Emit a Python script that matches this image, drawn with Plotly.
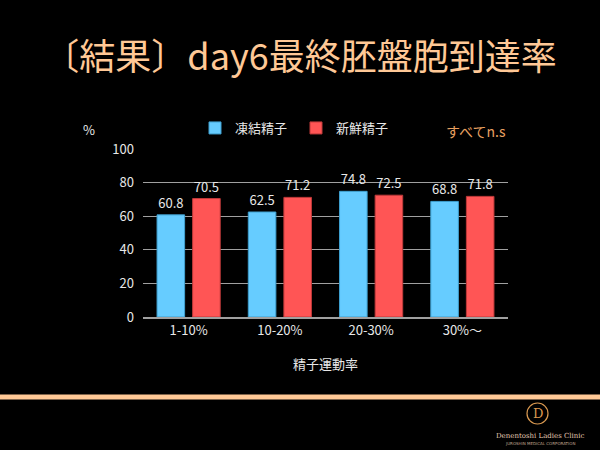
import plotly.graph_objects as go

categories = ["1-10%", "10-20%", "20-30%", "30%～"]
frozen = [60.8, 62.5, 74.8, 68.8]
fresh = [70.5, 71.2, 72.5, 71.8]
series_names = ["凍結精子", "新鮮精子"]
y_ticks = [0, 20, 40, 60, 80, 100]

JP = "Noto Sans CJK JP"
PEACH = "#FFC896"

fig = go.Figure()
fig.add_trace(go.Bar(
    x=categories, y=frozen, name=series_names[0],
    marker=dict(color="#66CCFF", line=dict(color="#3FA0D0", width=1)),
    text=[f"{v:.1f}" for v in frozen], textposition="outside",
    textfont=dict(color="#E8E8E8", size=13, family=JP), cliponaxis=False,
))
fig.add_trace(go.Bar(
    x=categories, y=fresh, name=series_names[1],
    marker=dict(color="#FF5555", line=dict(color="#C03A3A", width=1)),
    text=[f"{v:.1f}" for v in fresh], textposition="outside",
    textfont=dict(color="#E8E8E8", size=13, family=JP), cliponaxis=False,
))

fig.update_layout(
    width=600, height=450,
    paper_bgcolor="black", plot_bgcolor="black",
    margin=dict(l=143, r=92, t=149, b=133),
    bargap=0.22, bargroupgap=0.225,
    font=dict(family=JP, color="#E8E8E8", size=13),
    title=dict(text="〔結果〕day6最終胚盤胞到達率", x=0.5, xanchor="center",
               y=1 - 57 / 450, yanchor="middle",
               font=dict(family=JP, size=36, color=PEACH)),
    legend=dict(orientation="h", x=(296 - 143) / 365, xanchor="center", y=1 + 21 / 168,
                yanchor="middle", entrywidth=56, entrywidthmode="pixels",
                font=dict(size=13, color="#E8E8E8", family=JP), bgcolor="rgba(0,0,0,0)",
                itemwidth=30, traceorder="normal"),
    showlegend=True,
)
fig.update_yaxes(range=[0, 100], tickvals=y_ticks, showgrid=True, gridcolor="#A0A0A0",
                 gridwidth=1, zeroline=False, showline=False, ticks="",
                 tickfont=dict(size=13, color="#E8E8E8"), ticklabelstandoff=8)
fig.update_xaxes(showline=True, linecolor="#A0A0A0", linewidth=2, ticks="",
                 tickfont=dict(size=13, color="#E8E8E8"),
                 title=dict(text="精子運動率", font=dict(size=13, color="#E8E8E8"), standoff=22))

fig.add_annotation(text="%", xref="paper", yref="paper", x=-62 / 365, y=1 + 20 / 168,
                   showarrow=False, xanchor="left", yanchor="middle",
                   font=dict(size=13, color="#E8E8E8"))
fig.add_annotation(text="すべてn.s", xref="paper", yref="paper", x=1.0, y=1 + 18 / 168,
                   showarrow=False, xanchor="right", yanchor="middle",
                   font=dict(size=14, color="#E8A060"))

# bottom divider line
fig.add_shape(type="line", xref="paper", yref="paper", x0=-143 / 365, x1=457 / 365,
              y0=(317 - 397) / 168, y1=(317 - 397) / 168,
              line=dict(color=PEACH, width=5))
# logo
fig.add_shape(type="circle", xref="paper", yref="paper",
              x0=(527 - 143) / 365, x1=(548 - 143) / 365,
              y0=(317 - 424) / 168, y1=(317 - 403) / 168,
              line=dict(color="#D89850", width=1.2))
fig.add_annotation(text="D", xref="paper", yref="paper", x=(538 - 143) / 365, y=(317 - 413) / 168,
                   showarrow=False, xanchor="center", yanchor="middle",
                   font=dict(size=13, color="#D89850", family="DejaVu Serif"))
fig.add_annotation(text="Denentoshi Ladies Clinic", xref="paper", yref="paper",
                   x=(540 - 143) / 365, y=(317 - 436) / 168, showarrow=False,
                   xanchor="center", yanchor="middle",
                   font=dict(size=7, color="#E0C8B0", family="DejaVu Serif"))
fig.add_annotation(text="JUROSHIN MEDICAL CORPORATION", xref="paper", yref="paper",
                   x=(540 - 143) / 365, y=(317 - 443) / 168, showarrow=False,
                   xanchor="center", yanchor="middle",
                   font=dict(size=4, color="#C0A890", family="DejaVu Sans"))

fig.write_html("out.html")
